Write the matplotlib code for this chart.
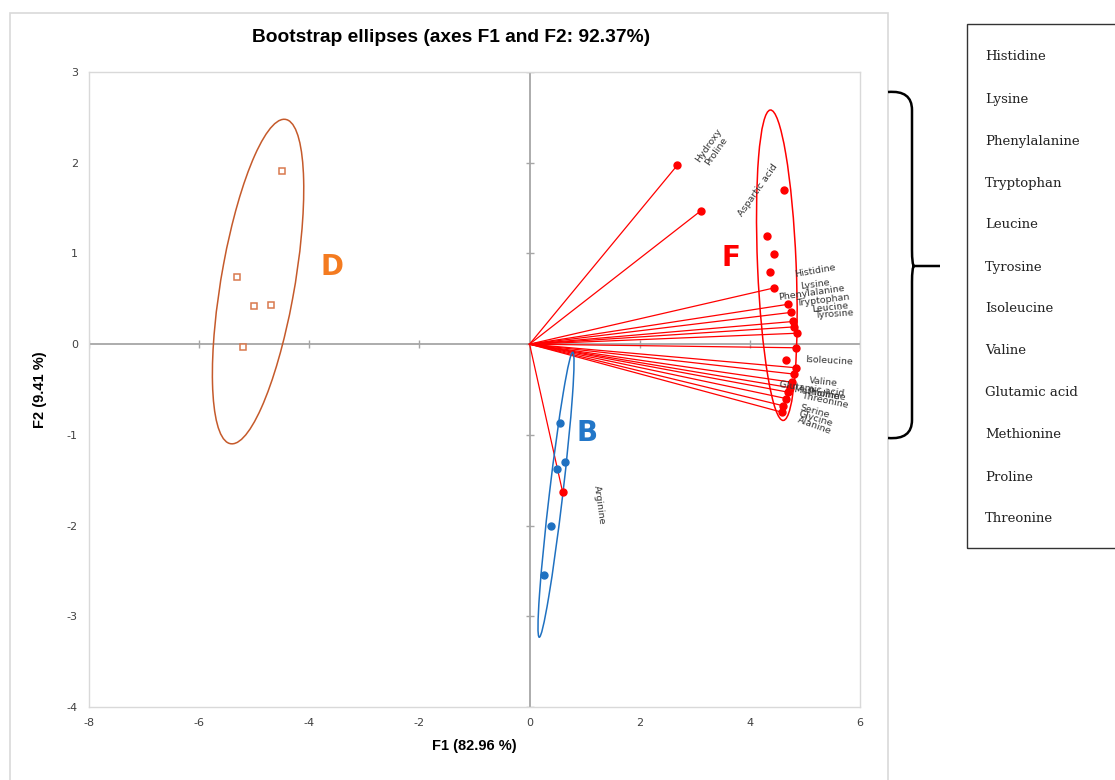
import numpy as np
import matplotlib
matplotlib.use("Agg")
import matplotlib.pyplot as plt
from matplotlib.patches import Ellipse, Rectangle, PathPatch
from matplotlib.path import Path

plt.rcParams["axes.unicode_minus"] = False

W, H = 1115, 780
NARROW = ["Liberation Sans Narrow", "DejaVu Sans Condensed", "Liberation Sans", "DejaVu Sans"]

# --- data ---
var_names = ["Hydroxy\nProline", "Aspartic acid", "Histidine", "Lysine", "Phenylalanine",
             "Tryptophan", "Leucine", "Tyrosine", "Isoleucine", "Valine", "Glutamic acid",
             "Methionine", "Proline", "Threonine", "Serine", "Glycine", "Alanine", "Arginine"]
var_f1 = [2.68, 3.11, 4.44, 4.70, 4.75, 4.79, 4.80, 4.85, 4.84, 4.83, 4.80,
          4.76, 4.73, 4.70, 4.66, 4.61, 4.58, 0.60]
var_f2 = [1.97, 1.47, 0.62, 0.44, 0.35, 0.25, 0.19, 0.12, -0.04, -0.26, -0.33,
          -0.42, -0.48, -0.53, -0.60, -0.68, -0.75, -1.63]

obs_D_f1 = [-4.50, -5.32, -5.00, -4.70, -5.21]
obs_D_f2 = [1.91, 0.74, 0.42, 0.43, -0.03]
obs_B_f1 = [0.55, 0.64, 0.49, 0.39, 0.27]
obs_B_f2 = [-0.87, -1.30, -1.38, -2.01, -2.54]
obs_F_f1 = [4.62, 4.31, 4.44, 4.37, 4.65]
obs_F_f2 = [1.70, 1.19, 0.99, 0.79, -0.17]

# ellipse: centre f1, centre f2, major, minor, angle (deg)
ell_D = (-4.93, 0.69, 3.72, 1.31, 73)
ell_B = (0.48, -1.66, 3.20, 0.24, 79)
ell_F = (4.49, 0.87, 3.43, 0.70, 94)

legend_items = ["Histidine", "Lysine", "Phenylalanine", "Tryptophan", "Leucine", "Tyrosine",
                "Isoleucine", "Valine", "Glutamic acid", "Methionine", "Proline", "Threonine"]

xticks = np.arange(-8, 7, 2)
yticks = np.arange(-4, 4, 1)

# label placement (pixel offsets, rotation)
lab_off = [(35, 17, 55), (57, 21, 55), (41, 17, 10), (27, 20, 8), (20, 19, 8),
           (30, 21, 7), (36, 19, 6), (37, 19, 4), (33, -13, -3), (28, -14, -6),
           (18, -15, -8), (28, -11, -9), (33, -7, -10), (36, -8, -12), (28, -13, -15),
           (32, -13, -17), (33, -14, -20), (37, -13, -82)]

RED = "#FF0000"
BROWN = "#C55A2B"
BLUE = "#1F71C1"
GRID = "#D9D9D9"
AXC = "#A6A6A6"

fig = plt.figure(figsize=(W / 100, H / 100), dpi=100)
ax = fig.add_axes([89 / W, 1 - 707 / H, (860 - 89) / W, (707 - 72) / H])
ax.set_xlim(-8, 6)
ax.set_ylim(-4, 3)
for s in ax.spines.values():
    s.set_color(GRID)
    s.set_linewidth(1.0)
ax.set_xticks(xticks)
ax.set_yticks(yticks)
ax.tick_params(length=0, labelsize=8, colors="#404040", pad=8)
ax.set_xlabel("F1 (82.96 %)", fontsize=10.5, fontweight="bold", labelpad=8, family=NARROW)
ax.set_ylabel("F2 (9.41 %)", fontsize=10.5, fontweight="bold", labelpad=14, family=NARROW)

# zero axes with cross ticks
ax.axhline(0, color=AXC, lw=1.3, zorder=1)
ax.axvline(0, color=AXC, lw=1.3, zorder=1)
ax.plot(xticks, np.zeros_like(xticks), ls="none", marker="|", ms=6, color=AXC, mew=1.0)
ax.plot(np.zeros_like(yticks), yticks, ls="none", marker="_", ms=6, color=AXC, mew=1.0)

# variable vectors
for x, y in zip(var_f1, var_f2):
    ax.plot([0, x], [0, y], color=RED, lw=0.9, zorder=3)
ax.plot(var_f1, var_f2, ls="none", marker="o", ms=5, color=RED, zorder=4)
for name, x, y, (dx, dy, rot) in zip(var_names, var_f1, var_f2, lab_off):
    ax.annotate(name, (x, y), xytext=(dx, dy), textcoords="offset pixels",
                ha="center", va="center", rotation=rot, fontsize=6.8,
                color="#333333", linespacing=1.1, zorder=5)

# observations
ax.plot(obs_D_f1, obs_D_f2, ls="none", marker="s", ms=4.8, mfc="white",
        mec="#D9794E", mew=1.1, zorder=4)
ax.plot(obs_B_f1, obs_B_f2, ls="none", marker="o", ms=5, color=BLUE, zorder=4)
ax.plot(obs_F_f1, obs_F_f2, ls="none", marker="o", ms=5, color=RED, zorder=4)

# bootstrap ellipses
for (cx, cy, a, b, ang), c in [(ell_D, BROWN), (ell_B, BLUE), (ell_F, RED)]:
    ax.add_patch(Ellipse((cx, cy), a, b, angle=ang, fill=False, ec=c, lw=1.1, zorder=3))

# group letters
ax.text(-3.58, 0.85, "D", color="#F47B20", fontsize=20, fontweight="bold", ha="center", va="center")
ax.text(1.05, -0.98, "B", color="#2377C8", fontsize=20, fontweight="bold", ha="center", va="center")
ax.text(3.65, 0.95, "F", color=RED, fontsize=20, fontweight="bold", ha="center", va="center")

fig.text(451 / W, 1 - 38 / H, "Bootstrap ellipses (axes F1 and F2: 92.37%)",
         ha="center", va="center", fontsize=13.8, fontweight="bold", family=NARROW)

# chart frame
fig.patches.append(Rectangle((10 / W, -0.02), (888 - 10) / W, 1 - 13 / H + 0.02,
                             transform=fig.transFigure, fill=False, ec=GRID, lw=1.2))

# curly brace
def px(x, y):
    return (x / W, 1 - y / H)

verts = [px(888, 92), px(912, 90), px(912, 110), px(912, 250), px(912, 265),
         px(914, 266), px(940, 266),
         px(914, 266), px(912, 267), px(912, 282), px(912, 420), px(912, 440), px(888, 438)]
codes = [Path.MOVETO, Path.CURVE3, Path.CURVE3, Path.LINETO, Path.CURVE3, Path.CURVE3,
         Path.LINETO, Path.MOVETO, Path.CURVE3, Path.CURVE3, Path.LINETO, Path.CURVE3, Path.CURVE3]
fig.patches.append(PathPatch(Path(verts, codes), transform=fig.transFigure,
                             fill=False, ec="black", lw=1.8))

# legend box
fig.patches.append(Rectangle(px(967, 548), 200 / W, (548 - 24) / H,
                             transform=fig.transFigure, fill=False, ec="#333333", lw=1.0,
                             clip_on=False))
for i, name in enumerate(legend_items):
    fig.text(985 / W, 1 - (57 + 42 * i) / H, name, ha="left", va="center",
             fontsize=9.5, family=["DejaVu Serif"], color="#222222")

fig.savefig("out.png", dpi=100)
